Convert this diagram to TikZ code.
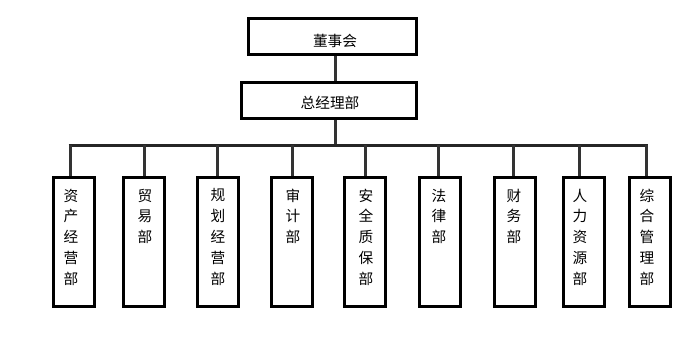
\documentclass[tikz,border=0pt]{standalone}
\usepackage{fontspec}
\setmainfont{Noto Sans CJK SC}
\definecolor{linegray}{HTML}{333333}
\begin{document}
\begin{tikzpicture}[x=0.75pt,y=-0.75pt,
  box/.style={draw=black,line width=2.25pt,fill=white,inner sep=0pt},
  topbox/.style={box,minimum height=27pt},
  dept/.style={box,minimum width=30.75pt,minimum height=96.75pt},
  vtext/.style={anchor=north,inner sep=0pt,align=center,font=\fontsize{11}{15.6}\selectfont},
  htext/.style={font=\fontsize{11}{12}\selectfont},
  conn/.style={draw=linegray,line width=2.25pt}]
\useasboundingbox (0,0) rectangle (684,346);
% top boxes
\node[topbox,minimum width=126pt] (board) at (332.5,36.5) {};
\node[htext] (boardt) at (335,41) {董事会};
\node[topbox,minimum width=131.25pt] (gm) at (329,100.5) {};
\node[htext] (gmt) at (330,103) {总经理部};
% connectors
\coordinate (busL) at (70,145);
\coordinate (busR) at (647,145);
\coordinate (busM) at (335,145);
\draw[conn] (board.south -| busM) -- (gm.north -| busM);
\draw[conn] (gm.south -| busM) -- (busM);
\draw[conn,draw=black!85] ([xshift=-1.1pt]busL) -- ([xshift=1.1pt]busR);
% departments: center x, drop x, text
\foreach \n/\cx/\dx/\txt in {
  1/73.5/70/{资\\产\\经\\营\\部},
  2/144/144/{贸\\易\\部},
  3/218/217/{规\\划\\经\\营\\部},
  4/291.5/292/{审\\计\\部},
  5/364.5/365/{安\\全\\质\\保\\部},
  6/439.5/438/{法\\律\\部},
  7/515/513/{财\\务\\部},
  8/583.5/579/{人\\力\\资\\源\\部},
  9/649.5/646/{综\\合\\管\\理\\部}}{
  \coordinate (d\n) at (\dx,145);
  \node[dept] (b\n) at (\cx,242) {};
  \draw[conn] (d\n) -- (d\n |- b\n.north);
  \node[vtext] (t\n) at (\dx+1,188.5) {\txt};
}
\end{tikzpicture}
\end{document}
